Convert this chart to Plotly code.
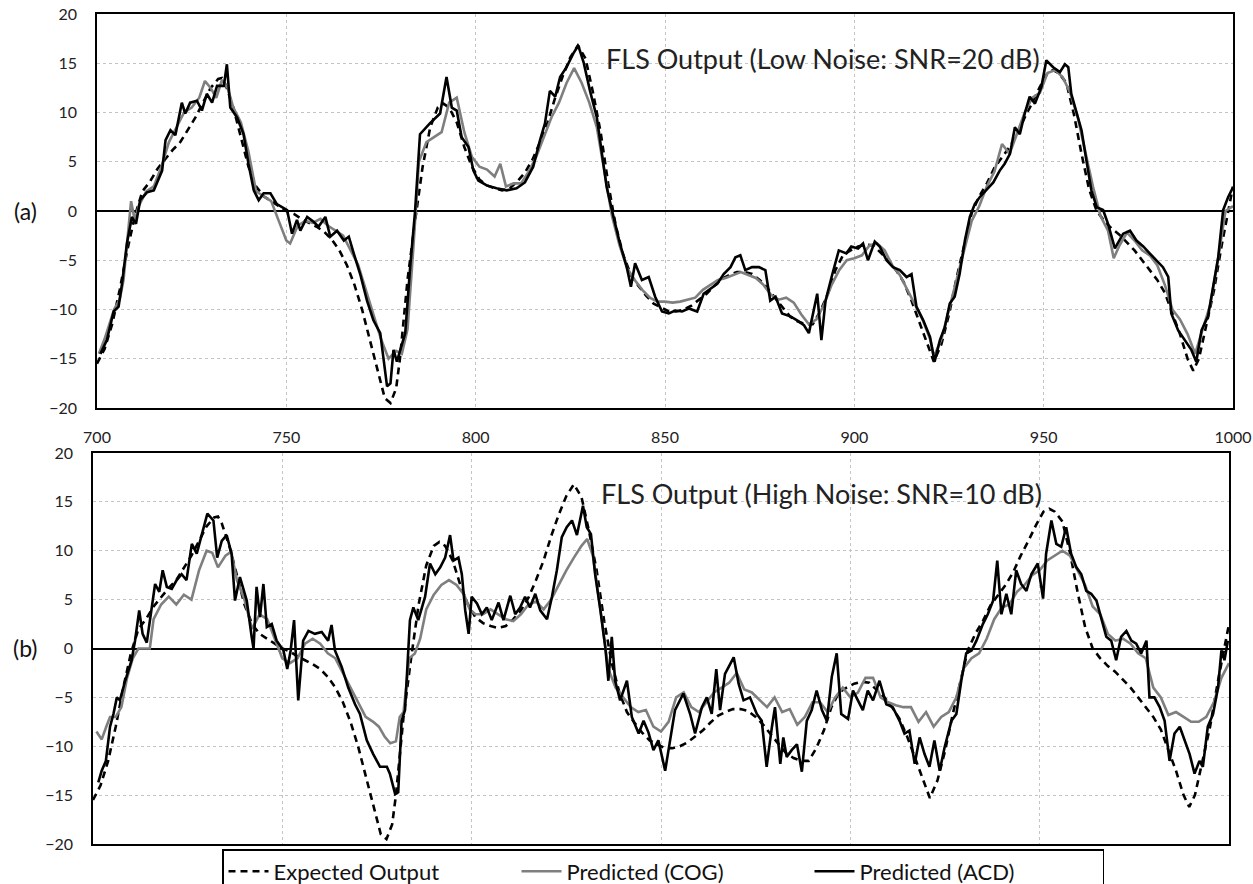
import plotly.graph_objects as go

# ---------------- data ----------------
EXP_X = [700, 702, 704, 706, 708, 710, 712, 714, 716, 718, 720, 722, 724, 726, 728, 730, 732, 733, 734, 736,
         738, 740, 742, 744, 746, 748, 750, 752, 754, 756, 758, 760, 762, 764, 766, 768, 770, 772, 774, 776,
         777.5, 779, 780, 781, 782, 784, 786, 788, 790, 791.5, 793, 795, 797, 799, 801, 803, 805, 807, 809, 811,
         813, 815, 817, 819, 821, 823, 825, 827, 829, 831, 833, 835, 837, 839, 841, 843, 845, 847, 849, 851,
         853, 855, 857, 859, 861, 863, 865, 867, 869, 871, 873, 875, 877, 879, 881, 883, 885, 887, 889, 891,
         893, 895, 897, 899, 901, 903, 905, 907, 909, 911, 913, 915, 917, 919, 921, 923, 925, 927, 929, 931,
         933, 935, 937, 939, 941, 943, 945, 947, 949, 951, 952.5, 954, 956, 958, 960, 962, 964, 966, 968, 970,
         972, 974, 976, 978, 980, 982, 984, 986, 988, 989.5, 991, 993, 995, 997, 999, 1000]
EXP_Y = [-15.5, -14, -11.5, -8, -4, -0.5, 2, 3, 4.3, 5.3, 6.2, 7, 8.3, 9.5, 11, 12.5, 13.4, 13.5, 12.8, 10.5,
         7.5, 4.5, 2.5, 1.5, 1, 0.5, 0, -0.3, -0.8, -1.2, -1.6, -2.1, -2.9, -4, -5.5, -7.5, -10, -13, -16, -19,
         -19.5, -18, -15, -11, -7, -1, 4.5, 8.5, 10.5, 10.9, 10.5, 9, 6.5, 4.5, 3.2, 2.6, 2.3, 2.1, 2.3, 3,
         3.9, 5.2, 7, 9, 11.5, 13.7, 15.6, 16.8, 15.5, 12, 8, 2.8, -1.5, -4.5, -6.5, -7.6, -8.6, -9.4, -9.8, -10.2,
         -10.2, -10, -9.6, -9, -8.4, -7.6, -6.9, -6.5, -6.2, -6.2, -6.4, -7, -7.8, -8.8, -9.8, -10.7, -11.2, -11.5, -11.5, -10.2,
         -8.4, -6, -4.5, -4, -3.6, -3.4, -3.5, -4.2, -5, -6, -7.2, -9, -11, -13.2, -15.3, -13.5, -10.5, -6.8, -3.5, -0.2,
         1.5, 2.8, 4.4, 5.4, 6.5, 7.8, 9.5, 11, 12.6, 14, 14.3, 14, 13, 9.8, 5.8, 2.2, 0, -1, -1.8, -2.4,
         -3.2, -4, -5, -6, -7, -8.3, -10.3, -12.5, -15, -16.2, -15, -11.5, -8, -3.5, 0.5, 2.5]

# Panel (a): low noise
ACD_A_X = [700.9, 702.6, 704.4, 705.7, 706.6, 707.9, 709.2, 710.3, 711.4, 713.2, 715, 716, 717.2, 718.1, 719.4,
           720.7, 722.4, 723.3, 724.6, 726.4, 727.7, 729, 730.4, 731.7, 733.5, 734.3, 735.2, 737, 738.7, 740,
           741.4, 742.7, 744, 745.8, 747.5, 750.2, 751.5, 752.8, 753.7, 755.5, 757.2, 758.5, 760.3, 761.6, 763.4,
           765.2, 766.5, 767.8, 769.5, 771.3, 773, 774.8, 775.7, 776.6, 777.5, 778.3, 779.2, 780.1, 781.4, 782.7,
           784, 785.3, 787.9, 790.6, 792.3, 793.7, 795, 796.3, 798.1, 799.4, 800.7, 802.9, 805.5, 808.2, 810.8,
           813, 815.2, 817, 818.3, 819.6, 821, 822.3, 824, 825.8, 827.1, 828.5, 830.2, 832, 833.3, 834.6,
           836.4, 838.1, 839.9, 841, 842.1, 843.9, 845.7, 847.4, 849.2, 851, 852.7, 854.5, 856.3, 858.5, 860.2,
           862, 863.8, 865.5, 867.3, 868.6, 869.9, 871.2, 873, 874.8, 876.5, 877.8, 879.2, 880.9, 883.1, 884.9,
           886.7, 888, 889.3, 890.2, 891.3, 892.4, 894.2, 895.9, 897.9, 899.2, 901, 902.3, 903.6, 905.4, 906.7,
           908.5, 910.2, 912, 913.8, 915.1, 916.4, 918.2, 920, 921.2, 922.6, 923.9, 925.2, 926.5, 927.8, 929.2,
           930.5, 931.8, 933.1, 934.9, 936.7, 938.4, 939.7, 941.1, 942.4, 943.7, 945, 946.3, 947.7, 949.4, 950.7,
           952.5, 954.3, 955.6, 956.5, 957.3, 958.7, 960, 961.3, 962.6, 964, 965.7, 967, 968.8, 971, 972.8,
           974.5, 976.3, 978, 979.8, 981.5, 982.9, 983.7, 985.5, 987.3, 989, 990.3, 991.7, 993.4, 994.7, 996.1,
           997.4, 998.7, 1000]
ACD_A_Y = [-14.5, -13.1, -10.2, -9.7, -7.4, -3.3, -0.6, -1.3, 1.1, 1.9, 2.1, 3.1, 4.1, 7.2, 8.2,
           7.7, 11, 9.9, 11, 11.2, 10.2, 11.9, 11, 12.7, 12.7, 14.9, 10.5, 9.5, 7.8, 4.8,
           2.1, 1.1, 1.8, 1.8, 0.7, 0.1, -2.3, -0.9, -2, -0.6, -1.1, -1.6, -0.6, -2.6, -2,
           -3, -2.6, -4.3, -6.4, -9.1, -11.1, -12.4, -15.1, -17.8, -17.5, -14.1, -15.3, -14.1, -12.4, -5.7,
           0, 7.8, 8.9, 9.9, 13.6, 10.5, 10.2, 7.5, 6.5, 4.1, 3.1, 2.6, 2.3, 2.1, 2.3,
           2.9, 4.5, 7.2, 8.9, 12.2, 11.6, 13.6, 14.6, 16, 16.8, 15.1, 12.2, 9.5, 6.1, 2.4,
           -0.6, -3.3, -5.7, -7.7, -5.3, -7, -6.7, -8.7, -10.2, -10.4, -10.1, -10.2, -9.9, -10.2, -8.4,
           -7.9, -7.4, -6.4, -5.7, -4.7, -4.5, -6, -5.7, -5.7, -6, -9.1, -8.7, -10.4, -10.7, -11.1,
           -11.6, -12.4, -10.1, -8.4, -13.1, -9.1, -6.4, -4, -4.3, -3.6, -3.8, -3.3, -5, -3.1, -3.6,
           -5, -5.7, -6, -6.7, -6.4, -9.7, -11.1, -12.8, -15.3, -13.1, -11.8, -9.4, -8.7, -6.4, -3,
           -0.6, 0.7, 1.4, 2.1, 2.9, 4.1, 4.8, 5.8, 8.5, 7.8, 9.9, 11.6, 10.9, 12.6, 15.3,
           14.6, 14.1, 14.9, 14.6, 11.9, 9.9, 8.2, 5.1, 2.1, 0.4, 0.1, -1.3, -3.8, -2.3, -2,
           -3, -3.6, -4.3, -5, -5.7, -6.7, -10.4, -12.1, -13.1, -14.1, -15.3, -12.1, -10.7, -7.7, -4.7,
           0.1, 1.4, 2.4]

COG_A_X = [700.5, 702, 704.5, 706, 707, 708, 709, 710, 711, 713, 715, 717, 719, 721, 723, 725, 727, 728.5, 730,
           731.5, 733, 734.5, 736, 738, 740, 742, 744, 746, 748, 750, 751, 753, 755, 757, 759, 761, 763, 765,
           767, 769, 771, 773, 775, 777, 779, 780.5, 782, 783.5, 785, 787, 789, 791, 793, 795, 797, 799, 801,
           803, 805, 806.5, 808, 810, 812, 814, 816, 818, 820, 822, 824, 826, 828, 830, 832, 834, 836, 838,
           840, 842, 844, 846, 848, 850, 852, 854, 856, 858, 860, 862, 864, 866, 868, 870, 872, 874, 876,
           878, 880, 882, 884, 886, 888, 890, 892, 894, 896, 898, 900, 902, 904, 906, 908, 910, 912, 914,
           916, 918, 920, 921, 923, 925, 927, 929, 931, 933, 935, 937, 939, 941, 943, 945, 947, 949, 951,
           953, 955, 957, 959, 961, 963, 965, 967, 968.5, 970, 972, 974, 976, 978, 980, 982, 984, 986, 988,
           990, 992, 994, 996, 998, 1000]
COG_A_Y = [-14.5, -13, -10, -9, -7, -3, 1, -1, 0.5, 2, 2.5, 4.5, 7, 8.5, 10, 10.5, 11.5, 13.2, 12.5,
           11.5, 13.3, 12.5, 10.5, 9, 6, 2, 1.5, 1, -1, -3, -3.3, -1.5, -1, -1.2, -0.8, -1.5, -2, -2.5,
           -4, -5.5, -8, -10.5, -13, -15, -14.2, -14.5, -12, -4, 5, 7, 7.5, 8, 11, 11.5, 8, 5.5, 4.5,
           4.2, 3.5, 4.8, 2.5, 2.8, 2.8, 4, 5.5, 7.5, 9.5, 11, 13, 14.5, 13, 11, 8.5, 4, -0.5, -3.5,
           -5.8, -7, -8, -8.8, -9.2, -9.2, -9.3, -9.2, -9, -8.8, -8, -7.5, -7, -6.8, -6.5, -6.2, -6.5, -6.8, -7.5,
           -8.5, -9, -8.8, -9.3, -10.5, -11.5, -11, -9.5, -7.5, -6, -5, -4.8, -4.5, -3.5, -3.3, -4, -5.5, -6.5, -8,
           -9.5, -11, -13, -14.8, -13, -10, -7, -4, -1, 0.5, 2.5, 4, 6.8, 5.8, 8, 10, 11.5, 12, 14,
           14.3, 13.6, 12, 9.5, 6, 2.5, -0.5, -2, -4.8, -3.5, -2.2, -3, -4, -4.5, -5.5, -7.5, -10, -11, -12.5,
           -14.5, -12, -9.5, -5, 0, 0.5]

# Panel (b): high noise
ACD_B_X = [701.4, 702.3, 703.4, 704.5, 705.4, 706.3, 707.1, 708.5, 710.2, 711.1, 712.2, 713.1, 714.2, 715.1,
           716.4, 717.5, 718.4, 719.5, 720.8, 722.1, 723.4, 724.7, 726.1, 727.4, 728.7, 730.2, 731.8, 732.8, 734,
           735.3, 736.6, 737.5, 738.8, 740.6, 741.9, 742.4, 743.2, 744.1, 745, 745.9, 747.2, 748.5, 750.3, 751.3,
           752.2, 753.1, 754.2, 755.5, 756.9, 758.6, 760.4, 762.1, 763, 763.9, 765.7, 767.4, 769.2, 770.5, 772.3,
           774, 775.8, 777.6, 778.4, 779.8, 780.6, 781.5, 782.4, 783.7, 784.6, 785.9, 787.7, 789, 790.4, 791.7,
           793, 794.3, 795.2, 796.5, 797.4, 798.3, 799.2, 800, 801.4, 802.7, 804, 805.3, 807.1, 808.4, 810.2,
           811.5, 812.8, 814.1, 815.4, 816.8, 818.1, 819.9, 821.2, 822.5, 823.8, 825.1, 826.5, 827.8, 829.4, 830.4,
           831.5, 832.6, 834, 835.3, 836.1, 837, 837.9, 839.2, 841, 842.3, 844.1, 845.4, 846.7, 848, 849.3,
           851.1, 852.4, 853.7, 855.9, 857.7, 859, 860.8, 862.1, 863.4, 864.6, 865.6, 866.9, 869.2, 870.5, 871.8,
           873.5, 875.3, 876.6, 877.9, 879.3, 880.1, 881.5, 882.3, 883.2, 884.5, 885.9, 887.2, 888.5, 889.8, 891.1,
           892.5, 893.8, 895.1, 896.4, 897.6, 899.4, 900.7, 902, 903.3, 904.6, 906, 907.7, 909.5, 911.2, 913,
           914.3, 915.6, 917, 918.3, 919.6, 920.9, 922.2, 923.6, 924.9, 926.7, 928, 929.3, 930.6, 932, 933.3,
           935, 936.3, 937.7, 938.8, 939.9, 941.2, 942.5, 943.8, 945.1, 946.5, 947.8, 949.5, 950.9, 951.7, 953.1,
           954.4, 955.7, 957, 958.3, 959.7, 961, 962.3, 963.6, 965, 966.3, 967.6, 968.9, 970.2, 971.5, 972.9,
           974.2, 975.5, 976.8, 978.2, 979, 980.3, 981.7, 983, 984.3, 985.6, 987, 988.3, 989.6, 990.9, 992.2,
           993.1, 994.4, 995.8, 997.1, 998, 998.8, 999.7]
ACD_B_Y = [-13.7, -12.5, -11.5, -8, -6.7, -5, -5.3, -3.3, -1.2, 0.8, 3.9, 1.5, 0.6, 2.9,
           6.6, 5.8, 8, 6.3, 6.1, 7, 7.6, 7, 10.7, 9.7, 11.7, 13.8, 13.1, 9.3, 11,
           11.6, 9.7, 4.9, 7.3, 4.9, 1.2, 0, 6.3, 3.2, 6.6, 2.2, 2.5, 0.8, -0.2, -2.1,
           -0.2, 2.9, -5.3, 0.8, 1.8, 1.5, 1.7, 0.8, 2.4, -0.2, -1.9, -4, -5.7, -6.7, -9.4,
           -10.8, -12.1, -12.1, -12.8, -14.9, -14.7, -7.4, -6.3, 2.9, 4.2, 2.9, 5.3, 8.7, 7.6, 8.3,
           9.3, 11.6, 9, 9.3, 7.6, 3.9, 1.5, 5.3, 4.6, 3.5, 4.2, 2.9, 4.7, 2.9, 5.4,
           3.5, 4.2, 5.3, 4.2, 5.6, 3.9, 3, 5.3, 8, 11.4, 12.4, 13.1, 11.6, 14.6, 12.4,
           11.7, 7.6, 3.9, 0.1, -3.3, 1.2, -3.3, -5.3, -3.3, -7, -8.7, -7.4, -8.6, -10.4, -9.4,
           -12.5, -9.4, -6.3, -4.6, -6.7, -8.7, -6, -5, -6.7, -2.1, -6.3, -2.6, -0.9, -3.6, -5.3,
           -5, -6.7, -7.4, -12.1, -8, -6, -11.8, -9.1, -11.1, -10.4, -9.8, -12.6, -7.4, -6.3, -4.3,
           -6.3, -7.4, -2.9, -0.5, -6.7, -7.2, -4.3, -5.3, -6.3, -4.3, -5.3, -3.3, -5.7, -6, -7.4,
           -8.7, -8.4, -11.8, -9.1, -10.8, -12.1, -9.4, -12.5, -10.1, -7.4, -6.7, -3.3, -0.5, -0.2, 0.8,
           2.5, 3.5, 4.9, 9, 3.5, 5.6, 3.5, 8, 6.6, 5.9, 7.6, 8.7, 5.1, 9.7, 13.1,
           10.7, 10.4, 12.4, 9.7, 8.3, 7.6, 5.9, 5.6, 4.9, 2.9, 1.2, 0.8, -1.2, 1.2, 1.8,
           0.8, 0.5, -0.5, 0.8, -5, -5, -6, -7.4, -11.5, -8.7, -8, -9.4, -10.8, -12.8, -11.5,
           -12.1, -8, -6.7, -4, -0.2, -1.2, 0.8]

COG_B_X = [700.9, 702.3, 703.5, 704.5, 706, 707.5, 709, 710.5, 712, 713.5, 715, 716, 718, 720, 722, 724, 726,
           728, 730, 731.5, 733, 735, 736.5, 738, 740, 742, 744, 746, 748, 750, 752, 754, 756, 758, 760, 762,
           764, 766, 768, 770, 772, 774, 775.5, 777, 778.5, 780, 781, 782, 783.5, 785, 786.4, 788, 790, 792,
           794, 796, 798, 799.5, 801, 803, 805, 807, 809, 811, 813, 815, 817, 819, 821, 823, 825, 827, 829,
           830.5, 832, 834, 836, 838, 840, 842, 844, 846, 848, 850, 852, 854, 856, 858, 860, 862, 864, 866,
           868, 870, 872, 874, 876, 878, 880, 882, 884, 886, 888, 890, 892, 894, 896, 898, 900, 902, 904,
           906, 908, 910, 912, 914, 916, 918, 920, 922, 924, 926, 928, 930, 932, 934, 936, 938, 940, 942,
           944, 946, 948, 950, 952, 954, 956, 958, 960, 962, 964, 966, 968, 970, 972, 974, 976, 978, 980,
           982, 984, 986, 988, 990, 992, 994, 996, 998, 1000]
COG_B_Y = [-8.5, -9.3, -8, -7, -7, -6, -3, -1, 0, 0, 0, 3, 4.5, 5.3, 4.5, 5.5, 5,
           8, 10, 9.8, 8.3, 9.5, 9.9, 7, 5, 2, 3.5, 3, 1, -1, -1.5, -1, 0.5, 1, 0.5, -0.5,
           -1, -2.5, -4, -5.5, -7, -7.5, -8, -9, -9.7, -9.5, -7, -6.5, -1, -0.5, 1, 4, 5.5, 6.5,
           7, 6.5, 5.5, 4, 3.5, 3.5, 4, 3.5, 3, 2.8, 3.5, 4.5, 4.8, 4, 5, 6.5, 8, 9.3, 10.5,
           11.2, 9.5, 4, -2, -4, -5, -6, -6.5, -6.3, -8, -8.5, -7.5, -5, -4.5, -6, -6.5, -5.5, -4.5, -4,
           -3.5, -2.5, -4.2, -4.5, -5.2, -6, -5, -6.5, -6.2, -7.8, -7, -5.5, -5.5, -6.5, -5, -4, -5, -4.5, -3,
           -3, -5, -5.5, -5.8, -6, -6, -7.5, -6.5, -8, -7, -6.5, -5, -2, -1, -0.5, 1, 3, 4.2, 4.5,
           5.8, 6.5, 7.5, 8, 9, 9.5, 10, 9.5, 8, 6.5, 4.3, 3.5, 1.5, 0.8, 1, 0.5, -0.5, -1, -4,
           -5, -6.8, -6.5, -7, -7.5, -7.5, -7, -5.5, -3, -1.5]

X_TICKS = [700, 750, 800, 850, 900, 950, 1000]
Y_TICKS = [-20, -15, -10, -5, 0, 5, 10, 15, 20]
LABELS = ["Expected Output", "Predicted (COG)", "Predicted (ACD)"]
PANEL_TITLES = ["FLS Output (Low Noise: SNR=20 dB)", "FLS Output (High Noise: SNR=10 dB)"]

# ---------------- figure ----------------
FONT = "Lato, 'Open Sans', sans-serif"
W, H = 1253, 884
GRAY = "#7f7f7f"
LW = 2.6

fig = go.Figure()

panels = [("x", "y", ACD_A_X, ACD_A_Y, COG_A_X, COG_A_Y, True),
          ("x2", "y2", ACD_B_X, ACD_B_Y, COG_B_X, COG_B_Y, False)]
for xa, ya, ax, ay, cx, cy, show in panels:
    fig.add_trace(go.Scatter(x=EXP_X, y=EXP_Y, mode="lines", name=LABELS[0], xaxis=xa, yaxis=ya,
                             line=dict(color="black", width=LW, dash="7px,5px"), showlegend=show))
    fig.add_trace(go.Scatter(x=cx, y=cy, mode="lines", name=LABELS[1], xaxis=xa, yaxis=ya,
                             line=dict(color=GRAY, width=LW), showlegend=show))
    fig.add_trace(go.Scatter(x=ax, y=ay, mode="lines", name=LABELS[2], xaxis=xa, yaxis=ya,
                             line=dict(color="black", width=LW), showlegend=show))

def px_x(p):
    return p / W

def px_y(p):
    return 1 - p / H

axis_common = dict(showline=True, mirror=True, linecolor="black", linewidth=1.5,
                   showgrid=True, gridcolor="#c4c4c4", griddash="dot", gridwidth=1,
                   ticks="", automargin=False,
                   tickfont=dict(family=FONT, size=16, color="#222"))

fig.update_layout(
    width=W, height=H,
    margin=dict(l=0, r=0, t=0, b=0, pad=0, autoexpand=False),
    paper_bgcolor="white", plot_bgcolor="white",
    font=dict(family=FONT, color="#222"),
    xaxis=dict(domain=[px_x(97), px_x(1233)], range=[700, 1000], tickvals=X_TICKS,
               anchor="y", zeroline=False, ticklabelstandoff=14, **axis_common),
    yaxis=dict(domain=[px_y(408), px_y(14)], range=[-20, 20], tickvals=Y_TICKS,
               anchor="x", zeroline=True, zerolinecolor="black", zerolinewidth=1.5,
               ticklabelstandoff=15, **axis_common),
    xaxis2=dict(domain=[px_x(93), px_x(1229)], range=[700, 1000], tickvals=X_TICKS,
                anchor="y2", zeroline=False, showticklabels=False, **axis_common),
    yaxis2=dict(domain=[px_y(844), px_y(453)], range=[-20, 20], tickvals=Y_TICKS,
                anchor="x2", zeroline=True, zerolinecolor="black", zerolinewidth=1.5,
                ticklabelstandoff=15, **axis_common),
    showlegend=True,
    legend=dict(orientation="h", x=663 / W, xanchor="center", y=px_y(849), yanchor="top",
                bordercolor="black", borderwidth=1.5, bgcolor="white",
                font=dict(family=FONT, size=22, color="#111"),
                entrywidth=238, entrywidthmode="pixels", itemwidth=40,
                tracegroupgap=0),
    annotations=[
        dict(x=834, y=15.5, xref="x", yref="y", text=PANEL_TITLES[0], showarrow=False,
             xanchor="left", yanchor="middle", font=dict(family=FONT, size=27, color="#222")),
        dict(x=833.5, y=15.9, xref="x2", yref="y2", text=PANEL_TITLES[1], showarrow=False,
             xanchor="left", yanchor="middle", font=dict(family=FONT, size=27, color="#222")),
        dict(x=25 / W, y=px_y(211), xref="paper", yref="paper", text="(a)", showarrow=False,
             xanchor="center", yanchor="middle", font=dict(family=FONT, size=23, color="#111")),
        dict(x=25 / W, y=px_y(648), xref="paper", yref="paper", text="(b)", showarrow=False,
             xanchor="center", yanchor="middle", font=dict(family=FONT, size=23, color="#111")),
    ],
)

fig.write_html("out.html", config={"displayModeBar": False},
               post_script="document.body.style.margin='0';document.body.style.overflow='hidden';")
